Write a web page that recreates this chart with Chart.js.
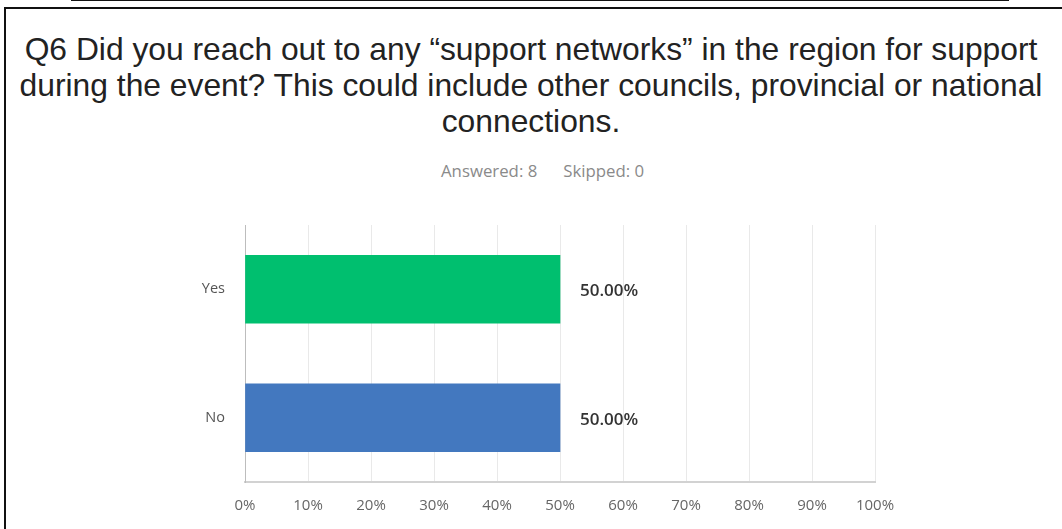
<!DOCTYPE html>
<html>
<head>
<meta charset="utf-8">
<script src="https://cdn.jsdelivr.net/npm/chart.js@4/dist/chart.umd.min.js"></script>
<style>
  html, body { margin: 0; padding: 0; background: #fff; }
  body { width: 1062px; height: 529px; position: relative; overflow: hidden; }
  .frame-top { position: absolute; left: 71px; top: -5px; width: 934px; height: 4px; border: 2px solid #111; border-top: none; }
  .frame { position: absolute; left: 4px; top: 7px; width: 1070px; height: 540px; border-left: 2px solid #111; border-top: 2px solid #111; }
  .title { position: absolute; left: 0; top: 31px; width: 1062px; text-align: center; font-family: "Liberation Sans", Arial, sans-serif; font-size: 31.8px; line-height: 36px; color: #222; white-space: nowrap; }
  .meta { position: absolute; left: 441px; top: 159px; font-family: "Open Sans", sans-serif; font-size: 16.8px; color: #8a8a8a; white-space: nowrap; }
  .meta span + span { margin-left: 26px; }
  #chart { position: absolute; left: 0; top: 0; }
</style>
</head>
<body>
<div class="frame-top"></div>
<div class="frame"></div>
<div class="title">Q6 Did you reach out to any “support networks” in the region for support<br>during the event? This could include other councils, provincial or national<br>connections.</div>
<div class="meta"><span>Answered: 8</span><span>Skipped: 0</span></div>
<canvas id="chart" width="1062" height="529"></canvas>
<script>
// answer choices and their share of responses (%)
const choices = ['Yes', 'No'];
const percents = [50, 50];
const barColors = ['#00BF6F', '#4378BF'];
const xTicks = [0, 10, 20, 30, 40, 50, 60, 70, 80, 90, 100];

// write the percentage just past the end of each bar
const valueLabels = {
    id: 'valueLabels',
    afterDatasetsDraw(chart) {
        const { ctx } = chart;
        const meta = chart.getDatasetMeta(0);
        ctx.save();
        ctx.font = '600 17px "Open Sans", sans-serif';
        ctx.fillStyle = '#333';
        ctx.textAlign = 'left';
        ctx.textBaseline = 'middle';
        meta.data.forEach((bar, i) => {
            ctx.fillText(percents[i].toFixed(2) + '%', bar.x + 20, bar.y + 2);
        });
        ctx.restore();
    }
};

new Chart(document.getElementById('chart'), {
    type: 'bar',
    data: {
        labels: choices,
        datasets: [{
            data: percents,
            backgroundColor: barColors,
            barThickness: 68,
            borderWidth: 0
        }]
    },
    options: {
        indexAxis: 'y',
        responsive: false,
        animation: false,
        layout: { padding: { left: 0, right: 187, top: 225, bottom: 0 } },
        plugins: { legend: { display: false }, tooltip: { enabled: false } },
        scales: {
            x: {
                min: 0,
                max: 100,
                afterBuildTicks(scale) { scale.ticks = xTicks.map(v => ({ value: v })); },
                afterFit(scale) { scale.height = 47; },
                grid: { color: '#e9e9e9', lineWidth: 1, drawTicks: false },
                border: { color: '#d2d2d2', width: 2 },
                ticks: {
                    padding: 15,
                    color: '#666',
                    font: { family: 'Open Sans', size: 15 },
                    callback: v => v + '%'
                }
            },
            y: {
                afterFit(scale) { scale.width = 245; },
                grid: { display: false, drawTicks: false },
                border: { color: '#bdbdbd', width: 1 },
                ticks: {
                    padding: 20,
                    color: '#555',
                    font: { family: 'Open Sans', size: 14.5 }
                }
            }
        }
    },
    plugins: [valueLabels]
});
</script>
</body>
</html>
